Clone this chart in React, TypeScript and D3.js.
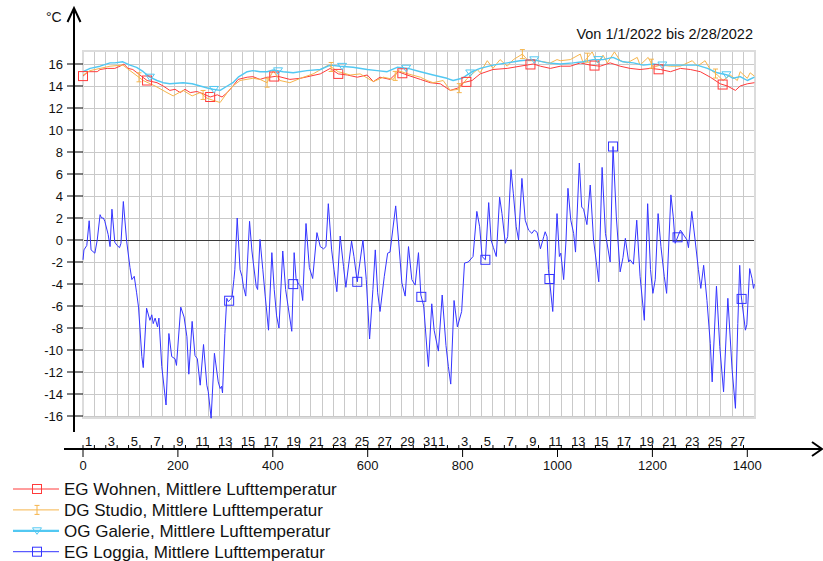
import * as d3 from 'd3';

const W = 823;
const H = 561;

// hourly index (0 = 1/1/2022 00:00) and temperature in °C
const wohnenHour = [0, 11, 30, 36, 51, 67, 78, 86, 95, 105, 120, 135, 156, 169, 183, 194, 205, 215, 226, 240, 253, 268, 283, 293, 304, 316, 327, 346, 358, 373, 388, 394, 409, 436, 458, 479, 500, 521, 538, 557, 578, 599, 612, 626, 647, 664, 683, 711, 732, 753, 774, 789, 801, 820, 837, 864, 894, 921, 949, 964, 985, 1006, 1027, 1048, 1069, 1090, 1111, 1132, 1153, 1174, 1196, 1217, 1238, 1259, 1280, 1301, 1322, 1343, 1358, 1375, 1385, 1400, 1415];
const wohnenTemp = [14.9, 15.3, 15.3, 15.5, 15.6, 15.6, 15.8, 16.0, 15.6, 15.5, 15.0, 14.5, 14.3, 14.0, 13.6, 13.7, 13.4, 13.7, 13.4, 13.5, 13.3, 13.0, 13.2, 13.0, 13.4, 14.0, 14.6, 14.8, 14.85, 14.6, 14.8, 14.8, 14.9, 14.6, 14.7, 14.9, 15.1, 15.6, 15.1, 15.0, 14.8, 15.0, 14.4, 14.8, 14.6, 15.3, 15.0, 14.6, 14.3, 14.2, 13.6, 13.8, 14.3, 14.5, 15.1, 15.5, 15.6, 15.8, 16.0, 15.8, 15.6, 15.8, 15.8, 16.1, 15.9, 15.8, 16.1, 15.8, 15.6, 15.5, 15.6, 15.5, 15.3, 15.6, 15.5, 15.3, 14.8, 14.2, 14.0, 13.6, 14.0, 14.2, 14.3];

const studioHour = [0, 15, 36, 57, 84, 99, 127, 152, 177, 190, 211, 230, 247, 261, 274, 289, 304, 316, 331, 358, 373, 388, 401, 415, 436, 458, 485, 517, 538, 563, 584, 612, 633, 654, 664, 685, 711, 725, 738, 759, 774, 791, 810, 831, 837, 852, 864, 879, 894, 907, 926, 938, 957, 970, 985, 999, 1006, 1027, 1048, 1054, 1073, 1084, 1096, 1105, 1120, 1132, 1147, 1168, 1174, 1191, 1202, 1217, 1238, 1259, 1284, 1295, 1311, 1322, 1337, 1349, 1364, 1379, 1385, 1400, 1406, 1415];
const studioTemp = [15.0, 15.4, 15.6, 15.8, 15.9, 15.4, 14.5, 14.0, 13.4, 13.1, 13.6, 13.1, 13.4, 12.9, 12.7, 12.5, 13.4, 14.0, 14.5, 14.7, 14.6, 14.3, 15.4, 14.5, 14.3, 14.7, 15.1, 15.9, 15.3, 15.0, 15.1, 14.4, 14.8, 14.6, 15.4, 15.1, 14.8, 14.5, 14.3, 14.5, 13.6, 13.7, 14.7, 15.5, 15.2, 16.3, 15.6, 16.4, 15.8, 16.4, 16.9, 16.3, 16.3, 16.2, 16.1, 16.4, 16.3, 16.4, 16.9, 16.1, 17.1, 16.1, 16.8, 16.1, 17.1, 16.3, 16.1, 16.6, 15.9, 16.6, 15.7, 15.9, 15.8, 15.8, 16.3, 15.8, 16.3, 15.5, 15.0, 14.5, 15.0, 14.5, 15.3, 14.7, 15.2, 14.9];

const galerieHour = [0, 15, 36, 57, 67, 84, 99, 113, 127, 141, 156, 169, 183, 211, 230, 247, 264, 274, 289, 304, 316, 327, 346, 358, 373, 388, 401, 422, 443, 472, 500, 521, 542, 569, 599, 620, 641, 662, 685, 711, 738, 767, 780, 799, 820, 837, 864, 894, 921, 949, 978, 1006, 1033, 1054, 1075, 1096, 1117, 1138, 1160, 1181, 1202, 1223, 1248, 1273, 1294, 1316, 1337, 1358, 1370, 1385, 1400, 1415];
const galerieTemp = [15.3, 15.6, 15.8, 16.1, 16.1, 16.2, 15.9, 15.7, 15.3, 14.8, 14.5, 14.3, 14.2, 14.3, 14.2, 14.0, 13.8, 13.7, 13.6, 14.0, 14.3, 14.8, 15.3, 15.4, 15.3, 15.3, 15.45, 15.3, 15.2, 15.4, 15.5, 15.9, 15.8, 15.7, 15.5, 15.4, 15.3, 15.7, 15.6, 15.3, 15.0, 14.7, 14.5, 14.7, 15.3, 15.6, 15.9, 16.1, 16.3, 16.4, 16.1, 16.0, 16.1, 16.2, 16.4, 16.4, 16.6, 16.2, 16.1, 15.9, 16.0, 15.9, 15.9, 15.9, 15.9, 15.6, 15.2, 15.0, 14.7, 14.85, 14.5, 14.8];

const loggiaHour = [0, 2, 8, 13, 17, 25, 30, 36, 39, 43, 46, 53, 57, 61, 67, 72, 77, 80, 85, 92, 99, 103, 108, 113, 117, 124, 127, 134, 141, 145, 148, 152, 157, 160, 166, 175, 181, 187, 194, 197, 206, 213, 219, 223, 230, 236, 241, 247, 254, 261, 264, 270, 277, 285, 289, 292, 294, 299, 303, 306, 311, 314, 318, 320, 325, 331, 335, 338, 343, 351, 356, 359, 365, 368, 373, 379, 384, 391, 398, 403, 408, 413, 421, 427, 440, 445, 449, 454, 459, 463, 470, 477, 484, 493, 500, 507, 512, 517, 524, 529, 535, 542, 549, 554, 566, 571, 578, 590, 597, 604, 611, 616, 621, 626, 635, 642, 647, 659, 665, 672, 679, 686, 693, 700, 707, 712, 718, 725, 728, 735, 740, 749, 757, 765, 770, 775, 782, 789, 798, 804, 812, 822, 830, 836, 841, 848, 855, 860, 865, 871, 878, 883, 890, 895, 902, 907, 913, 918, 925, 932, 939, 946, 951, 957, 964, 971, 974, 978, 981, 990, 999, 1004, 1007, 1013, 1018, 1022, 1028, 1034, 1038, 1046, 1051, 1055, 1062, 1069, 1076, 1087, 1094, 1101, 1111, 1117, 1124, 1132, 1138, 1143, 1150, 1153, 1160, 1167, 1174, 1183, 1190, 1196, 1201, 1206, 1212, 1218, 1225, 1230, 1239, 1244, 1248, 1259, 1266, 1273, 1276, 1283, 1290, 1297, 1302, 1308, 1315, 1322, 1326, 1335, 1342, 1350, 1359, 1368, 1375, 1380, 1384, 1387, 1396, 1399, 1405, 1410, 1413, 1415];
const loggiaTemp = [-1.8, -0.9, -0.5, 1.75, -0.9, -1.2, 0.0, 2.3, 2.0, 2.0, 1.7, 0.5, -0.6, 2.8, -0.2, -0.5, -0.7, -0.3, 3.5, -0.1, -2.5, -3.6, -3.3, -4.8, -6.1, -10.6, -11.6, -6.2, -7.3, -6.8, -7.6, -7.1, -7.9, -7.1, -11.5, -15.0, -8.5, -10.6, -10.8, -11.4, -6.1, -7.0, -8.8, -12.2, -7.4, -10.5, -10.8, -13.2, -9.5, -13.2, -13.8, -16.2, -10.3, -12.9, -13.5, -13.3, -13.9, -8.5, -5.3, -5.6, -5.4, -5.2, -3.6, -2.7, 2.0, -2.7, -3.3, -4.2, -5.1, 1.7, -1.0, -2.1, -4.2, -4.5, 0.05, -2.7, -5.1, -8.2, -1.15, -4.5, -6.9, -8.0, -1.0, -4.5, -8.3, -1.15, -3.5, -4.0, -4.2, -5.5, 1.5, -2.5, -3.5, 0.67, -0.6, -0.8, -0.6, 3.3, -0.9, -2.7, -4.7, 0.36, -2.4, -4.3, -0.1, -1.5, -3.8, 0.0, -3.6, -9.0, -4.5, -0.9, -4.8, -6.5, -3.3, -1.2, -1.1, 3.1, 0.0, -3.9, -5.1, -0.6, -3.6, -4.1, -1.15, -5.0, -6.0, -10.0, -11.5, -5.8, -8.2, -10.1, -5.0, -9.6, -11.5, -13.1, -5.5, -7.9, -6.5, -2.1, -2.0, -1.5, 2.6, 1.2, -1.5, -1.8, 3.4, 0.0, -0.7, -1.5, 3.9, 2.4, -0.3, 0.3, 6.4, 4.2, 1.2, 0.0, 5.6, 1.8, 0.9, 0.6, 0.9, 0.7, -0.8, 0.3, 0.75, 0.3, -2.7, -6.5, 2.4, -1.5, -1.2, -3.6, 0.0, 4.7, 1.8, 0.6, -1.1, 7.0, 3.0, 2.8, 1.4, 5.0, 0.0, -3.8, 6.6, 0.6, -2.0, 8.5, 2.1, -2.9, -1.6, 0.15, -2.0, -1.8, -2.2, 1.8, -3.3, -7.3, 3.3, -2.7, -4.85, -3.6, 2.4, -0.6, -3.3, -4.85, 4.1, 2.1, -0.3, 0.9, 0.45, 0.0, -0.7, 2.6, 0.0, -2.7, -4.4, -2.3, -5.5, -9.4, -12.9, -4.2, -9.7, -13.8, -5.3, -11.8, -15.3, -7.6, -2.3, -5.0, -8.2, -7.7, -2.6, -3.5, -4.4, -4.0];

// hours where the series carry a marker symbol
const wohnenMarks = [0, 135, 268, 403, 538, 673, 808, 943, 1078, 1213, 1348];
const studioMarks = [118, 253, 388, 523, 658, 793, 926, 1063, 1198, 1333];
const galerieMarks = [141, 276, 411, 546, 681, 816, 951, 1086, 1221, 1356];
const loggiaMarks = [308, 443, 578, 713, 848, 983, 1117, 1253, 1388];

const yTicks = d3.range(-16, 17, 2);
const xTicks = [0, 200, 400, 600, 800, 1000, 1200, 1400];
const dayLabels = [
  '1', '', '3', '', '5', '', '7', '', '9', '', '11', '', '13', '', '15', '', '17', '', '19', '', '21', '', '23', '', '25', '', '27', '', '29', '', '31',
  '1', '', '3', '', '5', '', '7', '', '9', '', '11', '', '13', '', '15', '', '17', '', '19', '', '21', '', '23', '', '25', '', '27', '',
];

const seriesNames = [
  'EG Wohnen, Mittlere Lufttemperatur',
  'DG Studio, Mittlere Lufttemperatur',
  'OG Galerie, Mittlere Lufttemperatur',
  'EG Loggia, Mittlere Lufttemperatur',
];
const colors = ['#ff3a3a', '#f6b54c', '#52c8f2', '#3434ff'];
const markerTypes = ['square', 'ibar', 'triangle', 'square'];

const FONT = '"Liberation Sans", Arial, sans-serif';

const x = d3.scaleLinear().domain([0, 1400]).range([83, 747.3]);
const y = d3.scaleLinear().domain([-16, 16]).range([416, 64]);
const plotLeft = x(0);
const plotRight = x(1416);
const plotTop = y(17.2);
const plotBottom = y(-16.2);

const series = [
  {hours: wohnenHour, temps: wohnenTemp, marks: wohnenMarks},
  {hours: studioHour, temps: studioTemp, marks: studioMarks},
  {hours: galerieHour, temps: galerieTemp, marks: galerieMarks},
  {hours: loggiaHour, temps: loggiaTemp, marks: loggiaMarks},
];

const valueAt = (hours: number[], temps: number[], h: number) => {
  const i = Math.max(1, Math.min(hours.length - 1, d3.bisectLeft(hours, h)));
  const t = (h - hours[i - 1]) / (hours[i] - hours[i - 1]);
  return temps[i - 1] + (temps[i] - temps[i - 1]) * Math.max(0, Math.min(1, t));
};

function Marker({type, cx, cy, color}: {type: string; cx: number; cy: number; color: string}) {
  if (type === 'square') {
    return <rect x={cx - 4.5} y={cy - 4.5} width={9} height={9} fill="none" stroke={color} strokeWidth={1} />;
  }
  if (type === 'triangle') {
    return <path d={`M${cx - 4.5},${cy - 3} L${cx + 4.5},${cy - 3} L${cx},${cy + 3.5} Z`} fill="none" stroke={color} strokeWidth={1} />;
  }
  return (
    <path d={`M${cx},${cy - 4.5} L${cx},${cy + 4.5} M${cx - 2.5},${cy - 4.5} L${cx + 2.5},${cy - 4.5} M${cx - 2.5},${cy + 4.5} L${cx + 2.5},${cy + 4.5}`}
      fill="none" stroke={color} strokeWidth={1} />
  );
}

export default function App() {
  const line = d3.line<number>();
  const dayCount = dayLabels.length;

  return (
    <svg width={W} height={H} style={{position: 'absolute', left: 0, top: 0, background: '#fff'}} fontFamily={FONT}>
      {/* grid */}
      <g shapeRendering="crispEdges">
        {d3.range(0, dayCount + 1).map(d => (
          <line key={'v' + d} x1={x(d * 24)} x2={x(d * 24)} y1={plotTop} y2={plotBottom} stroke="#c9c9c9" />
        ))}
        {yTicks.map(t => (
          <line key={'h' + t} x1={plotLeft} x2={plotRight} y1={y(t)} y2={y(t)} stroke={t === 0 ? '#3a3a3a' : '#c9c9c9'} />
        ))}
        <rect x={plotLeft} y={plotTop} width={plotRight - plotLeft} height={plotBottom - plotTop} fill="none" stroke="#dcdcdc" strokeWidth={2} />
      </g>

      {/* series */}
      {series.map((s, i) => (
        <path key={'s' + i}
          d={line(s.hours.map((h, j) => [x(h), y(s.temps[j])]) as any) || ''}
          fill="none" stroke={colors[i]} strokeWidth={i === 2 ? 1.4 : 1} strokeLinejoin="round" />
      ))}
      {series.map((s, i) => s.marks.map(h => (
        <Marker key={'m' + i + '-' + h} type={markerTypes[i]} cx={x(h)} cy={y(valueAt(s.hours, s.temps, h))} color={colors[i]} />
      )))}

      {/* y axis */}
      <g stroke="#000" fill="none">
        <line x1={74} x2={74} y1={432} y2={9} strokeWidth={2} />
        <path d="M67.5,22 L74,8 L80.5,22" strokeWidth={2} />
        {yTicks.map(t => (
          <line key={'yt' + t} x1={67} x2={plotLeft} y1={y(t)} y2={y(t)} strokeWidth={1} />
        ))}
      </g>
      {yTicks.map(t => (
        <text key={'yl' + t} x={63} y={y(t)} dy="0.36em" textAnchor="end" fontSize={13} fill="#111">{t}</text>
      ))}
      <text x={46} y={22} fontSize={14} fill="#111">°C</text>

      {/* x axis */}
      <g stroke="#000" fill="none">
        <line x1={64} x2={822} y1={449} y2={449} strokeWidth={2} />
        <path d="M812,442 L822,449 L812,456" strokeWidth={2} />
        {xTicks.map(t => (
          <line key={'xt' + t} x1={x(t)} x2={x(t)} y1={449} y2={457} strokeWidth={1} />
        ))}
        {d3.range(0, dayCount).map(d => (
          <line key={'dt' + d} x1={x(d * 24)} x2={x(d * 24)} y1={445} y2={449} strokeWidth={1} />
        ))}
      </g>
      {xTicks.map(t => (
        <text key={'xl' + t} x={x(t)} y={470} textAnchor="middle" fontSize={13} fill="#111">{t}</text>
      ))}
      {dayLabels.map((lab, d) => lab && (
        <text key={'dl' + d} x={x(d * 24 + 12)} y={446} textAnchor="middle" fontSize={13} fill="#111">{lab}</text>
      ))}

      <text x={753} y={39} textAnchor="end" fontSize={14.5} fill="#111">Von 1/1/2022 bis 2/28/2022</text>

      {/* legend */}
      {seriesNames.map((name, i) => {
        const cy = 489 + i * 20.9;
        return (
          <g key={'lg' + i}>
            <line x1={13} x2={59} y1={cy} y2={cy} stroke={colors[i]} strokeWidth={i === 2 ? 2.2 : 1} />
            <Marker type={markerTypes[i]} cx={37} cy={cy} color={colors[i]} />
            <text x={64} y={cy + 6} fontSize={17} fill="#111">{name}</text>
          </g>
        );
      })}
    </svg>
  );
}
